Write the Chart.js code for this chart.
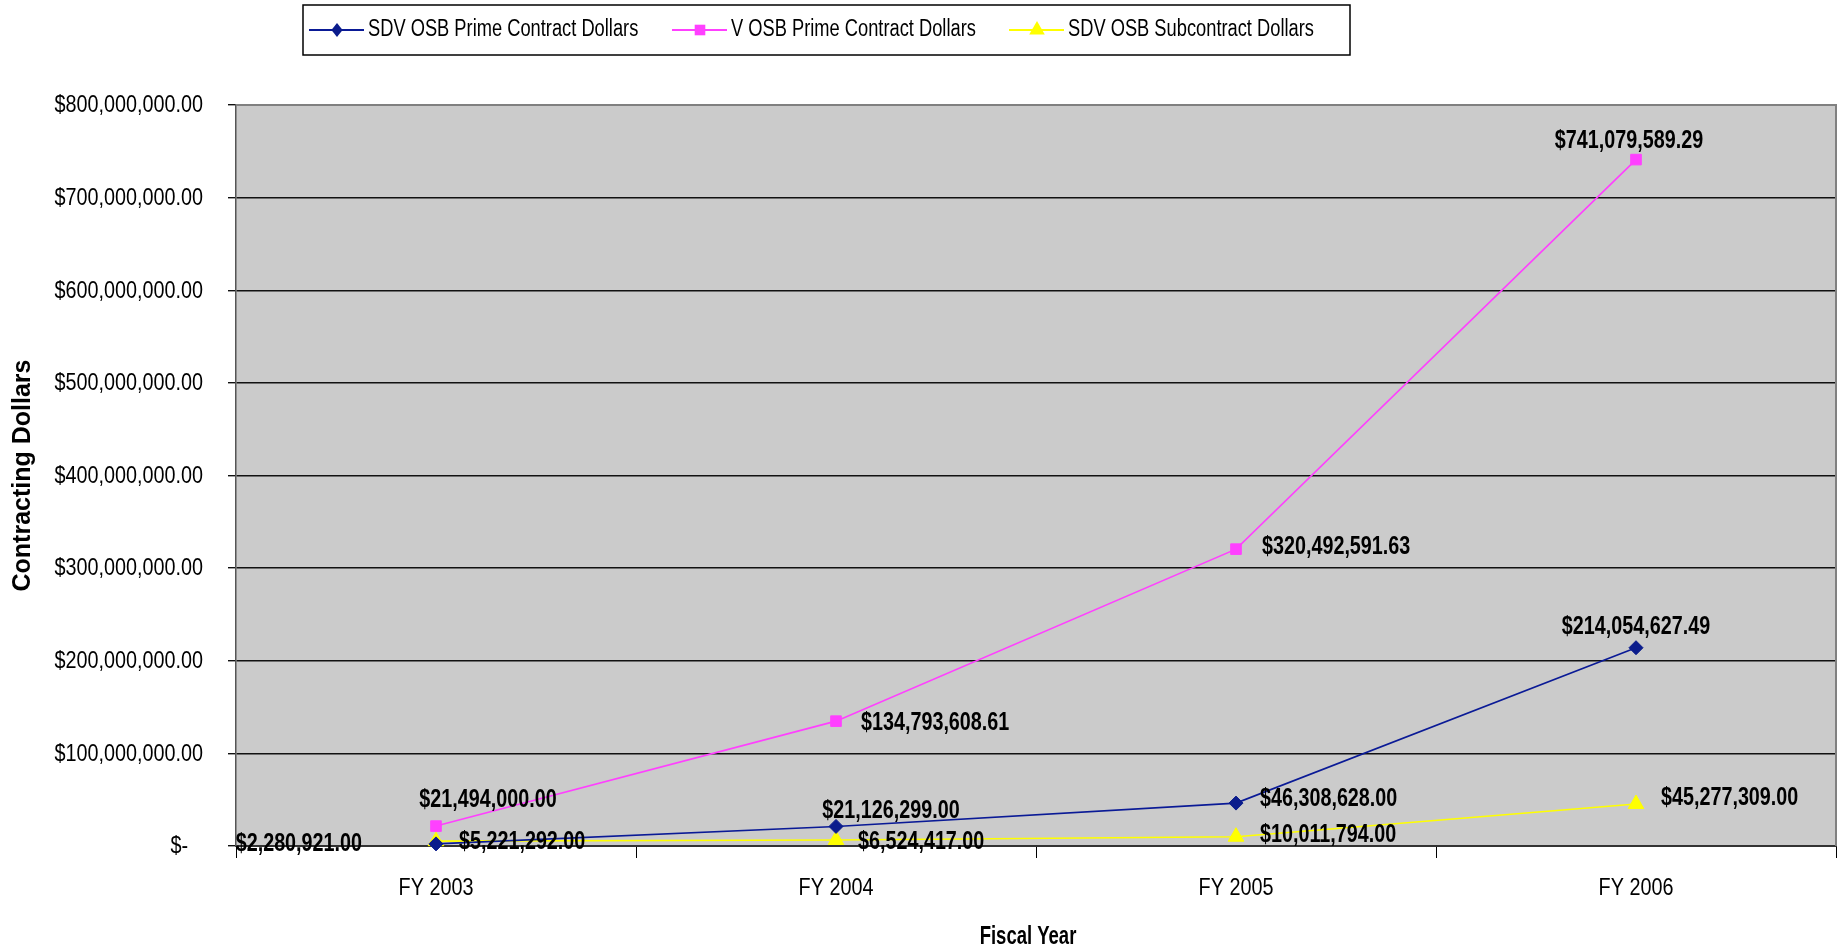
<!DOCTYPE html>
<html>
<head>
<meta charset="utf-8">
<script src="https://cdn.jsdelivr.net/npm/chart.js@4/dist/chart.umd.min.js"></script>
<style>
  html, body { margin: 0; padding: 0; background: #ffffff; }
  #wrap { width: 1846px; height: 951px; }
</style>
</head>
<body>
<div id="wrap"><canvas id="c" width="1846" height="951"></canvas></div>
<script>
// ---------- DATA ----------
const categories = ['FY 2003', 'FY 2004', 'FY 2005', 'FY 2006'];
const sdvosbPrime = [2280921.00, 21126299.00, 46308628.00, 214054627.49];
const vosbPrime = [21494000.00, 134793608.61, 320492591.63, 741079589.29];
const sdvosbSub = [5221292.00, 6524417.00, 10011794.00, 45277309.00];
const seriesNames = ['SDV OSB Prime Contract Dollars', 'V OSB Prime Contract Dollars', 'SDV OSB Subcontract Dollars'];
const yTickValues = [0, 100000000, 200000000, 300000000, 400000000, 500000000, 600000000, 700000000, 800000000];
const yTickLabels = ['$-', '$100,000,000.00', '$200,000,000.00', '$300,000,000.00', '$400,000,000.00',
                     '$500,000,000.00', '$600,000,000.00', '$700,000,000.00', '$800,000,000.00'];
const yAxisTitle = 'Contracting Dollars';
const xAxisTitle = 'Fiscal Year';

// ---------- STYLE ----------
const FONT = "'Liberation Sans', Arial, sans-serif";
const seriesStyles = [
  { line: '#0A1A96', fill: '#0B1C8C', pointStyle: 'rectRot', radius: 7 },
  { line: '#FF40FF', fill: '#FF40FF', pointStyle: 'rect', radius: 7.5 },
  { line: '#FFFF00', fill: '#FFFF00', pointStyle: 'triangle', radius: 9 }
];
// label placement relative to each point: align, dx, dy
const labelPlacement = [
  [{a:'right', dx:-74, dy:0}, {a:'center', dx:55, dy:-15}, {a:'left', dx:24, dy:-4}, {a:'center', dx:0, dy:-21}],
  [{a:'center', dx:52, dy:-26}, {a:'left', dx:25, dy:2}, {a:'left', dx:26, dy:-2}, {a:'center', dx:-7, dy:-18}],
  [{a:'left', dx:23, dy:1}, {a:'left', dx:22, dy:2}, {a:'left', dx:24, dy:-2}, {a:'left', dx:25, dy:-6}]
];

function money(v) {
  return '$' + v.toLocaleString('en-US', { minimumFractionDigits: 2, maximumFractionDigits: 2 });
}

// draws horizontally condensed text (the original uses a narrow typeface)
function narrowText(ctx, text, x, y, align, sx, font) {
  ctx.save();
  ctx.font = font;
  ctx.fillStyle = '#000000';
  ctx.textBaseline = 'middle';
  ctx.textAlign = align;
  ctx.translate(x, y);
  ctx.scale(sx, 1);
  ctx.fillText(text, 0, 0);
  ctx.restore();
}

function drawMarker(ctx, style, r, x, y, color) {
  ctx.save();
  ctx.fillStyle = color;
  ctx.beginPath();
  if (style === 'rect') {
    const s = r * Math.SQRT1_2;
    ctx.rect(x - s, y - s, 2 * s, 2 * s);
  } else if (style === 'rectRot') {
    ctx.moveTo(x, y - r); ctx.lineTo(x + r * 0.8, y); ctx.lineTo(x, y + r); ctx.lineTo(x - r * 0.8, y); ctx.closePath();
  } else {
    const w = r * 0.866;
    ctx.moveTo(x, y - r); ctx.lineTo(x + w, y + r / 2); ctx.lineTo(x - w, y + r / 2); ctx.closePath();
  }
  ctx.fill();
  ctx.restore();
}

const plotBg = {
  id: 'plotBg',
  beforeDraw(chart) {
    const { ctx, chartArea: a } = chart;
    ctx.save();
    ctx.fillStyle = '#CBCBCB';
    ctx.fillRect(a.left, a.top, a.right - a.left, a.bottom - a.top);
    ctx.restore();
  },
  afterDraw(chart) {
    const { ctx, chartArea: a } = chart;
    ctx.save();
    ctx.strokeStyle = '#808080';
    ctx.lineWidth = 2;
    ctx.beginPath();
    ctx.moveTo(a.left, a.top); ctx.lineTo(a.right, a.top); ctx.lineTo(a.right, a.bottom);
    ctx.stroke();
    ctx.restore();
  }
};

const axisText = {
  id: 'axisText',
  afterDraw(chart) {
    const ctx = chart.ctx;
    const ys = chart.scales.y, xs = chart.scales.x, a = chart.chartArea;
    const tickFont = "23px " + FONT;
    yTickValues.forEach((v, i) => {
      const y = ys.getPixelForValue(v);
      const shift = v === 0 ? -15 : 0;
      narrowText(ctx, yTickLabels[i], a.left - 33 + shift, y + 1, 'right', 0.86, tickFont);
    });
    categories.forEach((c, i) => {
      narrowText(ctx, c, xs.getPixelForValue(i), a.bottom + 43, 'center', 0.86, tickFont);
    });
    narrowText(ctx, xAxisTitle, (a.left + a.right) / 2 - 8, a.bottom + 91, 'center', 0.74, "bold 25px " + FONT);
  }
};

const dataLabels = {
  id: 'dataLabels',
  afterDatasetsDraw(chart) {
    const ctx = chart.ctx;
    chart.data.datasets.forEach((ds, di) => {
      const meta = chart.getDatasetMeta(di);
      meta.data.forEach((pt, i) => {
        const p = labelPlacement[di][i];
        narrowText(ctx, money(ds.data[i]), pt.x + p.dx, pt.y + p.dy, p.a, 0.79, "bold 25px " + FONT);
      });
    });
  }
};

const boxLegend = {
  id: 'boxLegend',
  afterDraw(chart) {
    const ctx = chart.ctx;
    ctx.save();
    const boxX = 303, boxY = 5, boxW = 1047, boxH = 50;
    ctx.fillStyle = '#ffffff';
    ctx.fillRect(boxX, boxY, boxW, boxH);
    ctx.strokeStyle = '#000000';
    ctx.lineWidth = 1.5;
    ctx.strokeRect(boxX, boxY, boxW, boxH);
    ctx.restore();
    const cy = 30;
    const starts = [309, 672, 1009];
    chart.data.datasets.forEach((ds, di) => {
      const st = seriesStyles[di];
      const x0 = starts[di];
      ctx.save();
      ctx.strokeStyle = st.line;
      ctx.lineWidth = 2;
      ctx.beginPath();
      ctx.moveTo(x0, cy); ctx.lineTo(x0 + 55, cy);
      ctx.stroke();
      ctx.restore();
      drawMarker(ctx, st.pointStyle, st.radius, x0 + 28, cy, st.fill);
      narrowText(ctx, ds.label, x0 + 59, cy, 'left', 0.795, "23px " + FONT);
    });
  }
};

const seriesData = [sdvosbPrime, vosbPrime, sdvosbSub];

new Chart(document.getElementById('c'), {
  type: 'line',
  data: {
    labels: categories,
    datasets: seriesData.map((d, i) => ({
      label: seriesNames[i],
      data: d,
      borderColor: seriesStyles[i].line,
      backgroundColor: seriesStyles[i].fill,
      borderWidth: 1.6,
      pointStyle: seriesStyles[i].pointStyle,
      pointRadius: seriesStyles[i].radius,
      pointBackgroundColor: seriesStyles[i].fill,
      pointBorderColor: seriesStyles[i].fill,
      pointBorderWidth: 1,
      tension: 0,
      fill: false,
      clip: false
    }))
  },
  options: {
    responsive: false,
    animation: false,
    devicePixelRatio: 1,
    layout: { padding: { top: 105, right: 4, left: 0, bottom: 0 } },
    plugins: {
      legend: { display: false },
      tooltip: { enabled: false }
    },
    scales: {
      x: {
        type: 'category',
        offset: true,
        grid: { offset: true, drawOnChartArea: false, drawTicks: true, tickLength: 12, color: '#000000', lineWidth: 1 },
        border: { display: true, color: '#333333', width: 2 },
        ticks: { display: false },
        afterFit(scale) { scale.height = 105; }
      },
      y: {
        min: 0,
        max: 800000000,
        afterBuildTicks(scale) { scale.ticks = yTickValues.map(v => ({ value: v })); },
        grid: { color: '#111111', lineWidth: 1.4, drawTicks: true, tickLength: 8 },
        border: { display: true, color: '#555555', width: 1.5 },
        ticks: { display: false },
        title: { display: true, text: yAxisTitle, color: '#000000', font: { family: FONT, size: 25, weight: 'bold' }, padding: { top: 8, bottom: 0 } },
        afterFit(scale) { scale.width = 236; }
      }
    }
  },
  plugins: [plotBg, dataLabels, axisText, boxLegend]
});
</script>
</body>
</html>
